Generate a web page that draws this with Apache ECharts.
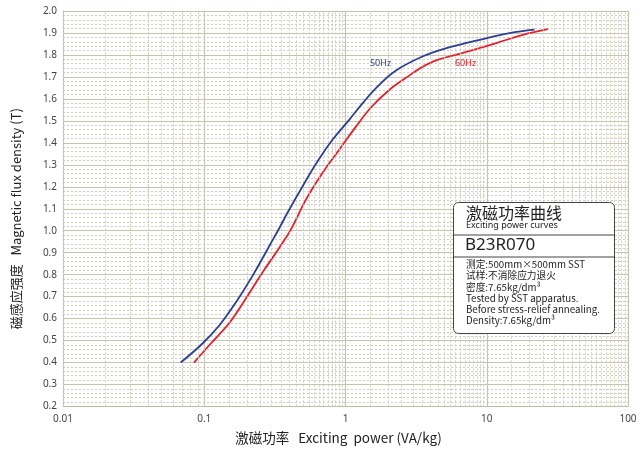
<!DOCTYPE html>
<html>
<head>
<meta charset="utf-8">
<script src="https://cdn.jsdelivr.net/npm/echarts@6/dist/echarts.min.js"></script>
<style>html,body{margin:0;padding:0;background:#fff}#c{width:644px;height:450px}</style>
</head>
<body>
<div id="c"></div>
<script>
// Data
var xTicks = [0.01, 0.1, 1, 10, 100];
var yTicks = [0.2, 0.3, 0.4, 0.5, 0.6, 0.7, 0.8, 0.9, 1.0, 1.1, 1.2, 1.3, 1.4, 1.5, 1.6, 1.7, 1.8, 1.9, 2.0];

var p50 = [0.0681, 0.098, 0.1285, 0.1687, 0.2212, 0.2902, 0.338, 0.391, 0.4995, 0.638, 0.814, 1.069, 1.328, 1.65, 2.25, 3.5, 5.17, 8.89, 14.5, 21.8];
var b50 = [0.40, 0.489, 0.571, 0.677, 0.798, 0.933, 1.009, 1.085, 1.205, 1.318, 1.416, 1.507, 1.582, 1.650, 1.727, 1.793, 1.831, 1.869, 1.899, 1.915];

var p60 = [0.0846, 0.1092, 0.1513, 0.1986, 0.2603, 0.3418, 0.41, 0.528, 0.692, 0.908, 1.192, 1.52, 2.0, 2.6, 3.94, 6.78, 11.67, 18.0, 27.1];
var b60 = [0.40, 0.481, 0.582, 0.695, 0.813, 0.925, 1.005, 1.145, 1.266, 1.371, 1.476, 1.562, 1.636, 1.690, 1.763, 1.809, 1.854, 1.891, 1.917];

var labels = ['50Hz', '60Hz'];
var labelPos = [[1.77, 1.76], [7.08, 1.76]];

function zip(a, b) { return a.map(function (v, i) { return [v, b[i]]; }); }

// minor vertical grid lines (every 0.5 within each decade)
var minorX = [];
for (var d = 0; d < xTicks.length - 1; d++) {
  for (var m = 1.5; m < 10; m += 0.5) {
    minorX.push({ xAxis: +(xTicks[d] * m).toPrecision(4) });
  }
}

var chart = echarts.init(document.getElementById('c'));
var fontCN = '"Noto Sans CJK SC", "Noto Sans", sans-serif';
chart.setOption({
  animation: false,
  grid: { left: 63, right: 16, top: 11, bottom: 42, containLabel: false },
  xAxis: {
    type: 'log', logBase: 10, min: xTicks[0], max: xTicks[xTicks.length - 1],
    name: '激磁功率   Exciting  power (VA/kg)', nameLocation: 'middle', nameGap: 25,
    nameTextStyle: { fontFamily: fontCN, fontSize: 13.5, color: '#222', padding: [0, 14, 0, 0] },
    axisLine: { lineStyle: { color: '#bfbdaa', width: 1 } },
    axisTick: { show: false },
    axisLabel: { color: '#444', fontSize: 10, margin: 8, fontFamily: '"Noto Sans", sans-serif',
      formatter: function (v) { return String(+v.toPrecision(3)); } },
    splitLine: { show: true, lineStyle: { color: '#c6c4ae', width: 1.2 } }
  },
  yAxis: {
    type: 'value', min: yTicks[0], max: yTicks[yTicks.length - 1], interval: 0.1,
    name: '磁感应强度   Magnetic flux density (T)', nameLocation: 'middle', nameGap: 40, nameRotate: 90,
    nameTextStyle: { fontFamily: fontCN, fontSize: 13, color: '#222', padding: [0, 20, 0, 0] },
    axisLine: { show: true, lineStyle: { color: '#bfbdaa', width: 1 } },
    axisTick: { show: false },
    axisLabel: { color: '#444', fontSize: 10, margin: 6, fontFamily: '"Noto Sans", sans-serif',
      formatter: function (v) { return v.toFixed(1); } },
    splitLine: { show: true, lineStyle: { color: '#c6c4ae', width: 1.2 } },
    minorTick: { show: false, splitNumber: 5 },
    minorSplitLine: { show: true, lineStyle: { color: '#cfcdbc', width: 1, type: [2, 2] } }
  },
  series: [
    {
      type: 'line', data: [], silent: true,
      markLine: {
        silent: true, symbol: 'none', label: { show: false },
        lineStyle: { color: '#cfcdbc', width: 1, type: [2, 2] },
        data: minorX
      }
    },
    {
      name: labels[0], type: 'line', data: zip(p50, b50), smooth: 0.4, showSymbol: false,
      lineStyle: { color: '#2b3f93', width: 1.8 }, z: 5,
      markPoint: { symbolSize: 0, data: [{ coord: labelPos[0], label: { show: true, formatter: labels[0], color: '#2b3f93', fontSize: 9, fontFamily: '"Noto Sans", sans-serif', position: 'inside' } }] }
    },
    {
      name: labels[1], type: 'line', data: zip(p60, b60), smooth: 0.4, showSymbol: false,
      lineStyle: { color: '#e3202b', width: 1.8 }, z: 4,
      markPoint: { symbolSize: 0, data: [{ coord: labelPos[1], label: { show: true, formatter: labels[1], color: '#e3202b', fontSize: 9, fontFamily: '"Noto Sans", sans-serif', position: 'inside' } }] }
    }
  ],
  graphic: [
    { type: 'rect', left: 453, top: 202, z: 100,
      shape: { width: 161, height: 131, r: 5 },
      style: { fill: '#fff', stroke: '#444', lineWidth: 1 } },
    { type: 'line', z: 101, shape: { x1: 453, y1: 235, x2: 614, y2: 235 }, style: { stroke: '#444', lineWidth: 1 } },
    { type: 'line', z: 101, shape: { x1: 453, y1: 257, x2: 614, y2: 257 }, style: { stroke: '#444', lineWidth: 1 } },
    { type: 'text', z: 102, left: 466, top: 205, style: { text: '激磁功率曲线', font: '16px "Noto Sans CJK SC"', fill: '#222' } },
    { type: 'text', z: 102, left: 466, top: 221, style: { text: 'Exciting power curves', font: '9px "Noto Sans"', fill: '#222' } },
    { type: 'text', z: 102, left: 465, top: 237, style: { text: 'B23R070', font: '17px "Noto Sans"', fill: '#222' } },
    { type: 'text', z: 102, left: 466, top: 259, style: {
      text: '测定:500mm×500mm SST\n试样:不消除应力退火\n密度:7.65kg/dm³\nTested by SST apparatus.\nBefore stress-relief annealing.\nDensity:7.65kg/dm³',
      font: '9.7px "Noto Sans CJK SC"', lineHeight: 11.2, fill: '#222' } }
  ]
});
</script>
</body>
</html>
